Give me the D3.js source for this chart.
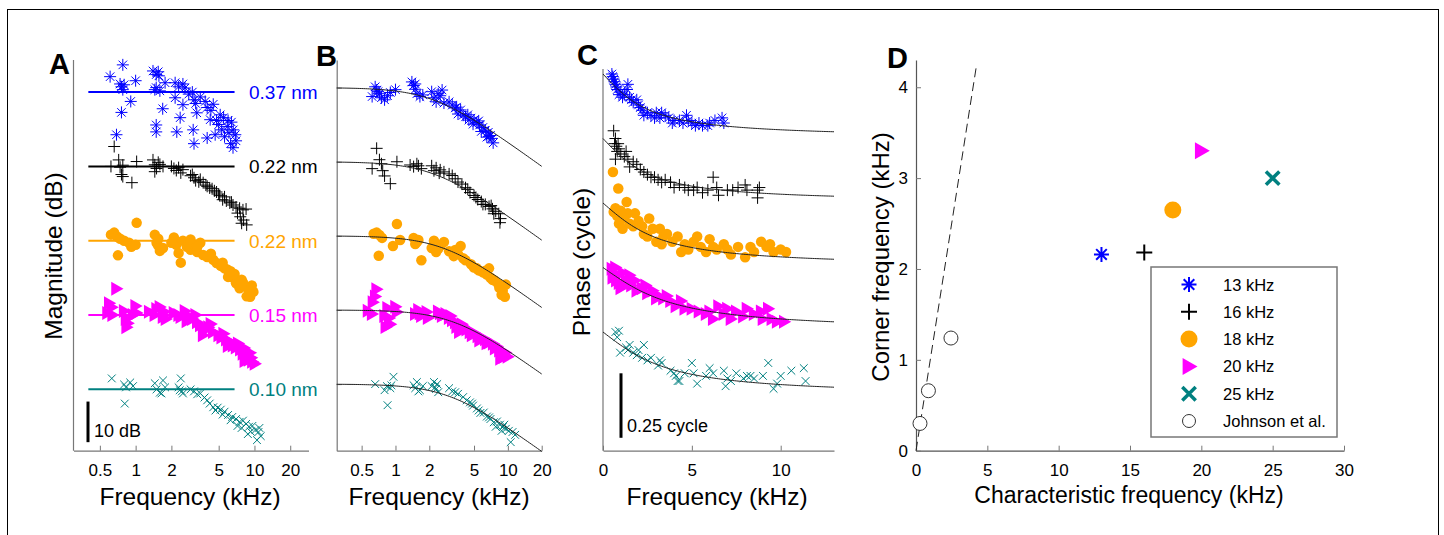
<!DOCTYPE html>
<html>
<head>
<meta charset="utf-8">
<script src="https://cdn.jsdelivr.net/npm/d3@7"></script>
<style>
body { margin: 0; background: #fff; }
svg { font-family: "Liberation Sans", Arial, sans-serif; }
</style>
</head>
<body>
<svg id="fig" width="1444" height="535"></svg>
<script>
// ---- data ----
// series order: 13, 16, 18, 20, 25 kHz
var seriesNames = ["13 kHz", "16 kHz", "18 kHz", "20 kHz", "25 kHz"];
var levelLabels = ["0.37 nm", "0.22 nm", "0.22 nm", "0.15 nm", "0.10 nm"];
var charFreq = [13, 16, 18, 20, 25];
var cornerFreq = [2.16, 2.18, 2.65, 3.3, 3.0];
var johnsonCF = [0.28, 0.87, 2.45];
var johnsonCorner = [0.3, 0.66, 1.24];

var logTicks = [0.5, 1, 2, 5, 10, 20];
var linTicksC = [0, 5, 10];
var xTicksD = [0, 5, 10, 15, 20, 25, 30];
var yTicksD = [0, 1, 2, 3, 4];

// panel A: [kHz, dB re. reference line]
var magA13 = [[0.61,3.8],[0.78,6.7],[0.74,2.0],[0.76,1.3],[0.78,0.6],[1.0,2.8],[0.91,-2.3],[0.76,-5.0],[0.69,-10.5],[1.4,5.2],[1.49,4.3],[1.57,4.0],[1.49,1.1],[1.45,0.6],[1.77,2.3],[1.69,-4.1],[1.49,-8.1],[1.49,-9.8],[2.15,2.3],[2.3,1.3],[2.5,2.0],[2.15,-1.4],[2.5,-3.1],[2.37,-6.3],[2.22,-9.8],[3.0,0],[3.1,-1.9],[3.2,-2.8],[3.27,-5.1],[3.05,-9.3],[3.1,-12.7],[3.85,-2.3],[4.0,-3.8],[4.5,-3.0],[4.24,-6.8],[4.0,-11.3],[4.67,-10.5],[5.15,-5.6],[5.5,-6.3],[6.0,-7.0],[6.4,-7.4],[6.63,-9.3],[5.3,-9.3],[5.6,-11.0],[6.3,-12.7],[6.6,-13.7],[5.9,-8.5],[4.8,-7.0],[2.8,-0.5],[1.6,0.3],[6.9,-10.5],[7.0,-12.0],[0.8,1.8],[1.55,5.0],[2.6,1.0],[3.5,-1.2],[4.3,-4.5],[5.0,-8.0],[6.1,-10.0]];
var magA16 = [[0.62,0],[0.66,4.9],[0.72,1.6],[0.74,-0.2],[0.76,-2],[0.78,-2.5],[0.93,-4],[0.78,0.3],[1.02,1.2],[1.4,1.6],[1.45,0.4],[1.5,-0.5],[1.45,-1.3],[1.6,0.5],[1.7,0],[2.0,0],[2.1,-0.5],[2.2,-1],[2.4,-1.6],[2.5,-0.8],[2.9,-2.3],[3.1,-2.8],[3.2,-3.5],[3.4,-3.8],[3.7,-4],[3.9,-4.6],[4.2,-5.3],[4.6,-6],[4.8,-6.3],[5.1,-7.2],[5.4,-8.2],[5.8,-8.5],[6.2,-9],[6.6,-9.5],[7.0,-10],[7.5,-10.3],[8.0,-10.7],[8.5,-10.5],[7.6,-12.4],[8.1,-13.2],[8.6,-14.4],[7.8,-14],[5.6,-7.5],[4.4,-5.5],[3.5,-3.2],[1.55,1.0],[2.3,-0.3],[3.0,-2.0],[4.0,-4.9],[5.0,-6.8],[6.4,-8.8],[7.2,-11.5]];
var magA18 = [[0.62,1.5],[0.66,2],[0.7,1],[0.74,0.5],[0.71,-3.6],[0.8,0],[0.88,-0.5],[0.92,-1.5],[1.02,4.4],[1.0,-1],[1.45,1.5],[1.5,-0.5],[1.55,-1.2],[1.6,-2.5],[1.7,-1.8],[2.1,0.8],[2.2,-1],[2.3,-3],[2.4,-5.4],[2.5,0],[2.7,-1.5],[2.9,-2.2],[3.1,-1],[3.3,-2.8],[3.5,-0.5],[3.7,-3.5],[4.0,-4],[4.5,-4.7],[4.8,-5.5],[5.2,-6.2],[5.6,-6.8],[5.9,-7.1],[6.0,-8.9],[6.5,-9],[7.0,-10.5],[7.5,-11.7],[8.2,-11.2],[8.6,-13.7],[9.2,-13.8],[9.8,-12.6],[9.5,-11],[6.8,-8.2],[7.8,-9.6],[1.55,0.5],[2.0,-0.5],[2.9,0.3],[3.3,-1.5],[4.3,-3.2],[5.4,-5.4],[6.3,-7.5],[8.0,-10.3],[9.0,-12.3]];
var magA20 = [[0.58,0.5],[0.6,2.9],[0.63,1.9],[0.64,0],[0.69,6.5],[0.8,1],[0.83,-1],[0.84,-3],[0.86,-2],[0.95,0],[1.0,2.2],[1.02,0.5],[1.45,0],[1.5,1.5],[1.6,2],[1.7,-0.5],[1.75,0.8],[1.8,-1],[2.3,0],[2.4,-0.5],[2.6,1],[2.7,-1.5],[2.9,-0.5],[3.0,-1],[3.3,-1.8],[3.5,-2.5],[3.8,-3.8],[4.1,-3],[4.5,-4.2],[3.7,-5],[5.0,-5],[5.3,-5.5],[5.8,-6],[6.2,-6.5],[6.6,-7.5],[7.0,-8],[7.6,-8.5],[8.0,-9.5],[8.6,-10],[9.0,-11],[9.6,-11.5],[10.1,-12],[9.4,-10.5],[8.3,-11.3],[1.3,0.8],[2.1,0.5],[3.2,0],[4.3,-2.2],[5.5,-4.6],[6.0,-7.6],[7.3,-7.0],[8.2,-8.1],[9.2,-9.3]];
var magA25 = [[0.63,2.7],[0.8,1.2],[0.83,0.5],[0.81,-3.5],[0.9,1.7],[0.95,0.8],[1.45,1.5],[1.5,0],[1.6,-0.8],[1.7,2.2],[1.77,0.5],[1.65,-1],[2.3,0.5],[2.4,2.7],[2.45,-0.5],[2.5,-1],[2.9,0],[3.1,-0.5],[3.3,-1.2],[3.5,-1],[3.8,-2],[4.0,-2.7],[4.2,-3.5],[4.5,-4.4],[4.9,-4.5],[5.2,-5],[5.6,-5.5],[6.0,-6.3],[6.5,-6.8],[7.0,-7.3],[7.5,-8],[8.0,-7.7],[8.5,-8.5],[9.0,-9.2],[9.6,-9],[10.2,-10],[10.8,-10.5],[11.3,-11.5],[10.5,-12.5],[7.2,-9],[8.8,-11],[2.35,-0.2],[4.7,-5.2],[5.4,-6.2],[6.3,-7.6],[7.8,-9.5],[9.3,-10.4],[11.0,-9.5]];

// panel B: [kHz, dB re. low-frequency level]
var magB13 = [[0.62,-2.2],[0.66,0.2],[0.68,-0.6],[0.72,-1.5],[0.75,-2.5],[0.8,-3],[0.85,-2],[0.9,-1.2],[1.0,-0.5],[1.4,1.4],[1.45,0.5],[1.5,-0.4],[1.55,-1.5],[1.65,-2.2],[1.75,-1.8],[2.1,-1],[2.2,-2.5],[2.3,-3.5],[2.5,-2],[2.6,-0.6],[2.7,-3.8],[3.2,-4.3],[3.4,-5],[3.6,-6.5],[3.8,-5.5],[4.0,-6.8],[4.2,-7.2],[4.4,-6.7],[4.7,-7.5],[5.0,-8],[5.3,-8.6],[5.6,-9.2],[6.0,-9.8],[6.3,-10.5],[6.7,-11],[7.0,-11.8],[7.2,-12.5],[7.4,-13.6],[6.5,-12.2],[5.8,-10.8],[4.9,-9],[0.7,-1.0],[1.5,0.9],[2.4,-1.5],[3.0,-3.5],[3.5,-4.8],[4.5,-8.0],[5.5,-8.2],[6.8,-12.0]];
var magB16 = [[0.62,-1.7],[0.68,3.3],[0.72,0.5],[0.75,-0.5],[0.77,-2.2],[0.8,-3.5],[0.9,-5.4],[1.03,0],[1.35,-0.8],[1.45,-1.2],[1.55,-0.5],[1.7,-1.7],[2.1,-1],[2.2,-2.2],[2.3,-1.5],[2.45,-2.8],[2.7,-2.5],[3.2,-3.4],[3.4,-4.2],[3.6,-5],[3.9,-5.5],[4.2,-6.4],[4.6,-7.6],[5.0,-8.3],[5.4,-9.3],[5.8,-9.8],[6.3,-10.5],[6.8,-11],[7.3,-11.6],[7.8,-12.2],[8.3,-12.8],[8.6,-14],[8.5,-15],[7.1,-10.8],[6.0,-10.5],[1.6,-1.0],[2.5,-2.0],[3.0,-3.0],[4.4,-6.8],[5.2,-8.8],[7.5,-12.8]];
var magB18 = [[0.64,0.5],[0.68,0.8],[0.72,0.2],[0.76,-0.5],[0.71,-4.9],[0.95,-2.5],[1.03,2.9],[1.1,-1],[1.45,-0.5],[1.5,-2],[1.6,-1],[1.7,-6],[2.1,-3],[2.2,-1.2],[2.3,-4],[2.5,-2.5],[2.7,-1.5],[3.0,-3.8],[3.3,-5],[3.6,-4.5],[3.8,-2.5],[4.2,-6],[4.7,-7],[5.0,-7.8],[5.5,-8.5],[6.0,-9],[6.5,-9.5],[7.0,-10.3],[6.8,-8],[7.6,-11],[8.2,-11.8],[8.6,-12.5],[9.0,-13.5],[9.4,-15],[8.8,-14.5],[9.6,-12],[1.55,-1.5],[2.4,-3.2],[3.4,-3.5],[4.0,-5.5],[5.3,-8.0],[6.3,-8.6],[7.3,-10.8],[8.4,-12.8]];
var magB20 = [[0.57,-0.2],[0.63,1.9],[0.66,3.3],[0.68,5.1],[0.62,-1],[0.8,-1.5],[0.85,0.5],[0.88,-2],[0.9,-3.5],[0.82,-4.2],[1.0,0.8],[1.03,-0.5],[1.5,-1],[1.6,0],[1.7,-1.5],[1.9,-0.5],[1.95,-2],[2.4,-0.4],[2.6,-1.5],[2.8,-1],[3.0,-2],[3.2,-2.5],[3.4,-3],[3.5,-4.2],[3.7,-5.4],[4.0,-4],[4.3,-4.8],[4.6,-5.5],[5.0,-5.6],[5.4,-6.5],[5.8,-6.8],[6.3,-7.2],[6.8,-8],[7.4,-8.3],[8.0,-9],[8.4,-10],[8.8,-11],[9.2,-11.6],[9.5,-10.5],[8.6,-12],[10.0,-11.5],[1.65,-0.8],[2.5,-0.8],[3.1,-1.5],[3.9,-3.5],[4.8,-6.2],[5.6,-7.5],[6.5,-8.2],[7.7,-9.5],[9.0,-10.2]];
var magB25 = [[0.66,0],[0.8,-1.5],[0.84,-0.5],[0.85,-5.2],[0.9,-1],[0.96,1.8],[0.92,-0.3],[1.45,-0.3],[1.55,0.5],[1.65,-1.5],[1.75,-0.5],[1.6,-1.8],[2.1,-0.5],[2.2,0.5],[2.3,-1.2],[2.4,-2],[2.35,0],[3.0,-1],[3.2,-1.8],[3.6,-2.4],[4.0,-3.2],[4.3,-4],[4.6,-4.5],[4.9,-5.3],[5.3,-6],[5.7,-7.1],[6.1,-7],[6.5,-8],[7.0,-8.6],[7.5,-9.4],[8.0,-9.2],[8.5,-10],[9.0,-10.6],[9.6,-11],[10.2,-11.5],[11.0,-11.8],[11.6,-12.5],[10.6,-14.3],[8.8,-11.5],[7.8,-10.5],[1.5,-1.0],[2.25,-0.8],[3.4,-2.0],[4.8,-4.8],[5.5,-6.5],[6.8,-8.2],[9.3,-10.0]];

// panel C: [kHz, cycle re. fit start]
var phC13 = [[0.5,0.0],[0.6,-0.02],[0.7,-0.04],[0.8,-0.06],[0.9,-0.08],[1.0,-0.07],[1.1,-0.09],[1.4,-0.04],[1.5,-0.09],[1.6,-0.1],[1.7,-0.11],[1.9,-0.1],[2.1,-0.13],[2.3,-0.16],[2.5,-0.15],[2.7,-0.16],[3.0,-0.15],[3.2,-0.17],[3.5,-0.16],[3.7,-0.17],[3.9,-0.19],[4.3,-0.18],[4.5,-0.19],[4.7,-0.16],[4.8,-0.18],[5.2,-0.2],[5.4,-0.19],[5.6,-0.2],[6.0,-0.19],[6.3,-0.18],[6.7,-0.17],[6.8,-0.19],[0.55,-0.01],[0.65,-0.03],[0.75,-0.05],[1.2,-0.08],[1.35,-0.06],[2.0,-0.12],[2.2,-0.14],[2.9,-0.17],[3.3,-0.15],[4.0,-0.18],[5.0,-0.19],[5.9,-0.2]];
var phC16 = [[0.6,0.03],[0.7,0.0],[0.75,-0.03],[0.8,-0.05],[0.7,-0.08],[0.9,-0.04],[1.0,-0.06],[1.3,-0.05],[1.4,-0.08],[1.5,-0.11],[1.7,-0.09],[2.1,-0.12],[2.3,-0.13],[2.5,-0.14],[2.9,-0.15],[3.1,-0.16],[3.3,-0.17],[3.8,-0.17],[4.0,-0.19],[4.6,-0.19],[4.8,-0.2],[5.3,-0.19],[5.6,-0.21],[6.2,-0.15],[6.4,-0.19],[6.5,-0.22],[7.0,-0.2],[7.3,-0.2],[8.0,-0.18],[8.1,-0.2],[8.7,-0.2],[8.8,-0.19],[8.7,-0.23],[0.65,-0.02],[0.85,-0.02],[1.2,-0.07],[1.9,-0.1],[2.7,-0.15],[3.5,-0.16],[4.3,-0.18],[5.1,-0.2],[5.9,-0.2],[7.6,-0.19]];
var phC18 = [[0.56,0.12],[0.86,0.056],[1.33,0.004],[0.6,-0.035],[0.8,-0.05],[0.9,-0.08],[1.1,-0.1],[1.4,-0.04],[1.5,-0.08],[1.8,-0.04],[2.0,-0.07],[2.3,-0.12],[2.6,-0.06],[2.8,-0.1],[3.2,-0.1],[3.4,-0.13],[3.6,-0.12],[3.9,-0.15],[4.2,-0.13],[4.6,-0.16],[5.1,-0.15],[5.5,-0.17],[5.8,-0.19],[6.0,-0.14],[6.4,-0.18],[6.8,-0.16],[7.2,-0.2],[7.6,-0.17],[8.0,-0.21],[8.5,-0.19],[8.9,-0.15],[9.2,-0.17],[9.6,-0.19],[10.0,-0.18],[10.3,-0.19],[4.4,-0.19],[3.0,-0.15],[1.2,-0.06],[0.7,-0.02],[1.0,-0.03],[1.7,-0.09],[2.2,-0.09],[2.5,-0.13],[3.3,-0.16],[4.8,-0.18],[5.3,-0.13],[6.2,-0.17],[7.0,-0.18],[8.3,-0.17],[9.4,-0.16]];
var phC20 = [[0.5,-0.005],[0.6,-0.02],[0.7,0.0],[0.8,-0.03],[0.9,-0.06],[1.0,-0.08],[1.1,-0.02],[1.3,-0.05],[1.5,-0.03],[1.6,-0.07],[1.8,-0.05],[2.2,-0.08],[2.5,-0.1],[2.8,-0.09],[3.1,-0.11],[3.4,-0.12],[3.8,-0.13],[4.1,-0.15],[4.4,-0.13],[5.0,-0.16],[5.4,-0.17],[5.8,-0.18],[6.2,-0.2],[6.5,-0.15],[6.8,-0.18],[7.2,-0.2],[7.5,-0.17],[8.1,-0.16],[8.5,-0.18],[8.9,-0.17],[9.3,-0.16],[9.5,-0.2],[9.8,-0.21],[10.2,-0.21],[0.55,-0.04],[0.75,-0.05],[1.2,-0.07],[1.9,-0.09],[2.4,-0.07],[3.0,-0.12],[3.6,-0.11],[4.6,-0.16],[6.0,-0.17],[7.0,-0.16],[7.9,-0.19],[9.0,-0.2]];
var phC25 = [[0.7,0.0],[0.8,-0.02],[0.9,0.005],[0.96,-0.08],[1.3,-0.06],[1.5,-0.05],[1.7,-0.08],[2.0,-0.07],[2.3,-0.05],[2.5,-0.11],[2.7,-0.1],[3.1,-0.13],[3.3,-0.12],[3.8,-0.15],[4.0,-0.16],[4.2,-0.19],[4.3,-0.19],[5.0,-0.12],[5.1,-0.16],[5.3,-0.2],[6.0,-0.14],[6.2,-0.16],[6.8,-0.15],[7.0,-0.18],[6.9,-0.21],[7.5,-0.16],[7.9,-0.18],[8.3,-0.17],[8.5,-0.18],[9.0,-0.17],[9.3,-0.12],[9.8,-0.2],[10.0,-0.17],[10.6,-0.15],[11.3,-0.14],[11.4,-0.19],[1.4,-0.07],[1.9,-0.09],[2.2,-0.1],[3.2,-0.11],[4.1,-0.17],[4.6,-0.16],[5.8,-0.17],[7.2,-0.19],[8.1,-0.17],[9.6,-0.22]];

var magA = [magA13, magA16, magA18, magA20, magA25];
var magB = [magB13, magB16, magB18, magB20, magB25];
var phC = [phC13, phC16, phC18, phC20, phC25];

// ---- style ----
var colors = ["#0000ff", "#000000", "#ffa500", "#ff00ff", "#008080"];
var kinds = ["star", "plus", "dot", "tri", "cross"];
var axisColor = "#777";

var svg = d3.select("svg#fig");

// outer frame
svg.append("rect")
  .attr("x", 7.5).attr("y", 9.5)
  .attr("width", 1431).attr("height", 600)
  .attr("fill", "none").attr("stroke", "#000").attr("stroke-width", 1);

function symPath(kind, s) {
  var h = s / 2, d = h * 0.7071;
  if (kind == "star") return "M" + (-h) + ",0L" + h + ",0M0," + (-h) + "L0," + h +
    "M" + (-d) + "," + (-d) + "L" + d + "," + d + "M" + (-d) + "," + d + "L" + d + "," + (-d);
  if (kind == "plus") return "M" + (-h) + ",0L" + h + ",0M0," + (-h) + "L0," + h;
  if (kind == "cross") return "M" + (-d) + "," + (-d) + "L" + d + "," + d + "M" + (-d) + "," + d + "L" + d + "," + (-d);
  if (kind == "tri") return "M" + (-h * 0.75) + "," + (-h) + "L" + h + ",0L" + (-h * 0.75) + "," + h + "Z";
  return d3.symbol(d3.symbolCircle, Math.PI * h * h)();
}

function styleMarks(sel, kind, color, sw) {
  if (kind == "dot" || kind == "tri") {
    sel.attr("fill", color).attr("stroke", "none");
  } else {
    sel.attr("fill", "none").attr("stroke", color).attr("stroke-width", sw);
  }
}

var sizes = { star: 12, plus: 12, dot: 10.5, tri: 14, cross: 11 };

function drawScatter(g, data, x, y, offset, i) {
  var k = kinds[i];
  var m = g.append("g").selectAll("path")
    .data(data)
    .enter().append("path")
    .attr("d", symPath(k, sizes[k]))
    .attr("transform", d => "translate(" + x(d[0]) + "," + y(d[1] + offset) + ")");
  styleMarks(m, k, colors[i], 1);
}

function styleAxis(g) {
  g.select(".domain").attr("stroke", axisColor).attr("stroke-width", 1.2);
  g.selectAll(".tick line").attr("stroke", axisColor);
  g.selectAll(".tick text").attr("fill", "#000").attr("font-size", 17)
    .attr("font-family", "Liberation Sans, Arial, sans-serif");
}

function axisTitle(x, y, text, rot, size) {
  svg.append("text")
    .attr("transform", "translate(" + x + "," + y + ")" + (rot ? " rotate(-90)" : ""))
    .attr("text-anchor", "middle")
    .attr("font-size", size || 24)
    .text(text);
}

function panelLetter(x, y, t) {
  svg.append("text").attr("x", x).attr("y", y)
    .attr("font-size", 29).attr("font-weight", "bold").text(t);
}

var bottom = 450.7;

// ================= Panel A =================
var xA = d3.scaleLog().domain([0.3, 28.5]).range([73.5, 308.5]);
var yA = d3.scaleLinear().domain([-88.3, 7.9]).range([bottom, 60]);
var stepA = 18.3;
var gA = svg.append("g");

gA.append("line").attr("x1", xA.range()[0]).attr("x2", xA.range()[0])
  .attr("y1", yA.range()[0]).attr("y2", yA.range()[1])
  .attr("stroke", axisColor).attr("stroke-width", 1.2);
var axA = gA.append("g").attr("transform", "translate(0," + bottom + ")")
  .call(d3.axisBottom(xA).tickValues(logTicks).tickFormat(d3.format("")).tickSizeInner(-5).tickSizeOuter(0).tickPadding(13));
styleAxis(axA);

magA.forEach(function(ser, i) {
  var off = -i * stepA;
  gA.append("line")
    .attr("x1", xA(0.4)).attr("x2", xA(6.8))
    .attr("y1", yA(off)).attr("y2", yA(off))
    .attr("stroke", colors[i]).attr("stroke-width", 2);
  drawScatter(gA, ser, xA, yA, off, i);
  gA.append("text")
    .attr("x", 249).attr("y", yA(off) + 7)
    .attr("font-size", 19).attr("fill", colors[i])
    .text(levelLabels[i]);
});

// 10 dB scale bar
gA.append("line").attr("x1", 88).attr("x2", 88)
  .attr("y1", yA(-86.2)).attr("y2", yA(-76.2))
  .attr("stroke", "#000").attr("stroke-width", 3);
gA.append("text").attr("x", 94).attr("y", 437).attr("font-size", 18).text("10 dB");

axisTitle(190, 505, "Frequency (kHz)", false, 24.5);
axisTitle(62, 256, "Magnitude (dB)", true, 24.5);
panelLetter(49, 74, "A");

// ================= Panel B =================
var xB = d3.scaleLog().domain([0.3, 20]).range([336.7, 541.7]);
var yB = d3.scaleLinear().domain([-89.4, 6.8]).range([bottom, 60]);
var stepB = 18.25;
var gB = svg.append("g");

var levelsB = cornerFreq.map((fc, i) => -i * stepB);
var axBy = gB.append("g").attr("transform", "translate(" + xB.range()[0] + ",0)")
  .call(d3.axisLeft(yB).tickValues(levelsB).tickFormat("").tickSizeInner(-5).tickSizeOuter(0));
styleAxis(axBy);
var axB = gB.append("g").attr("transform", "translate(0," + bottom + ")")
  .call(d3.axisBottom(xB).tickValues(logTicks).tickFormat(d3.format("")).tickSizeInner(-5).tickSizeOuter(0).tickPadding(13));
styleAxis(axB);

var fitFreqB = d3.range(0, 101).map(k => 0.3 * Math.pow(20 / 0.3, k / 100));
var lineB = d3.line().x(d => xB(d[0])).y(d => yB(d[1]));
magB.forEach(function(ser, i) {
  var off = -i * stepB;
  var fit = fitFreqB.map(f => [f, off - 10 * Math.log10(1 + (f / cornerFreq[i]) * (f / cornerFreq[i]))]);
  drawScatter(gB, ser, xB, yB, off, i);
  gB.append("path").attr("d", lineB(fit))
    .attr("fill", "none").attr("stroke", "#222").attr("stroke-width", 1);
});

axisTitle(439, 505, "Frequency (kHz)", false, 24.5);
panelLetter(316, 66, "B");

// ================= Panel C =================
var xC = d3.scaleLinear().domain([0, 13]).range([603, 834]);
var yC = d3.scaleLinear().domain([-1.46, 0.02]).range([bottom, bottom - 1.48 * 258]);
var stepC = 0.25;
var gC = svg.append("g");

gC.append("line").attr("x1", xC(0)).attr("x2", xC(0))
  .attr("y1", bottom).attr("y2", 69)
  .attr("stroke", axisColor).attr("stroke-width", 1.2);
var axC = gC.append("g").attr("transform", "translate(0," + bottom + ")")
  .call(d3.axisBottom(xC).tickValues(linTicksC).tickSizeInner(-5).tickSizeOuter(0).tickPadding(13));
styleAxis(axC);

var fitFreqC = d3.range(0, 131).map(k => k / 10);
var lineC = d3.line().x(d => xC(d[0])).y(d => yC(d[1]));
phC.forEach(function(ser, i) {
  var off = -i * stepC;
  var fit = fitFreqC.map(f => [f, off - Math.atan(f / cornerFreq[i]) / (2 * Math.PI)]);
  drawScatter(gC, ser, xC, yC, off, i);
  gC.append("path").attr("d", lineC(fit))
    .attr("fill", "none").attr("stroke", "#222").attr("stroke-width", 1);
});

// 0.25 cycle scale bar
gC.append("line").attr("x1", 621).attr("x2", 621)
  .attr("y1", yC(-1.41)).attr("y2", yC(-1.16))
  .attr("stroke", "#000").attr("stroke-width", 3);
gC.append("text").attr("x", 627).attr("y", 432).attr("font-size", 18).text("0.25 cycle");

axisTitle(717, 505, "Frequency (kHz)", false, 24.5);
axisTitle(590, 262, "Phase (cycle)", true, 24.5);
panelLetter(577, 65, "C");

// ================= Panel D =================
var xD = d3.scaleLinear().domain([0, 30]).range([916, 1344]);
var yD = d3.scaleLinear().domain([0, 4.3]).range([bottom, 60]);
var gD = svg.append("g");

var axDx = gD.append("g").attr("transform", "translate(0," + bottom + ")")
  .call(d3.axisBottom(xD).tickValues(xTicksD).tickSizeInner(-5).tickSizeOuter(0).tickPadding(13));
styleAxis(axDx);
var axDy = gD.append("g").attr("transform", "translate(" + xD(0) + ",0)")
  .call(d3.axisLeft(yD).tickValues(yTicksD).tickFormat(d3.format("d")).tickSizeInner(-5).tickSizeOuter(0).tickPadding(8));
styleAxis(axDy);
axDx.select(".domain").attr("stroke", "#555");
axDy.select(".domain").attr("stroke", "#555");

// identity line
gD.append("line")
  .attr("x1", xD(0)).attr("y1", yD(0))
  .attr("x2", xD(4.22)).attr("y2", yD(4.22))
  .attr("stroke", "#222").attr("stroke-width", 1)
  .attr("stroke-dasharray", "9,5");

// Johnson et al.
gD.selectAll("circle.johnson")
  .data(johnsonCF.map((c, i) => [c, johnsonCorner[i]]))
  .enter().append("circle")
  .attr("class", "johnson")
  .attr("cx", d => xD(d[0])).attr("cy", d => yD(d[1]))
  .attr("r", 7).attr("fill", "#fff").attr("stroke", "#333").attr("stroke-width", 1);

var sizesD = { star: 15, plus: 16, dot: 17, tri: 17, cross: 19 };
charFreq.forEach(function(cf, i) {
  var k = kinds[i];
  var p = gD.append("path")
    .attr("d", symPath(k, sizesD[k]))
    .attr("transform", "translate(" + xD(cf) + "," + yD(cornerFreq[i]) + ")");
  styleMarks(p, k, colors[i], k == "cross" ? 3.5 : 2);
});

// legend
var lg = gD.append("g").attr("transform", "translate(1151,267)");
lg.append("rect").attr("width", 186).attr("height", 170)
  .attr("fill", "#fff").attr("stroke", "#777").attr("stroke-width", 1.5);
var legendNames = seriesNames.concat(["Johnson et al."]);
legendNames.forEach(function(name, i) {
  var yy = 17.5 + i * 27.3;
  if (i < 5) {
    var k = kinds[i];
    var p = lg.append("path")
      .attr("d", symPath(k, sizesD[k]))
      .attr("transform", "translate(38," + yy + ")");
    styleMarks(p, k, colors[i], k == "cross" ? 3.5 : 2);
  } else {
    lg.append("circle").attr("cx", 38).attr("cy", yy).attr("r", 6.5)
      .attr("fill", "#fff").attr("stroke", "#333").attr("stroke-width", 1);
  }
  lg.append("text").attr("x", 72).attr("y", yy + 6)
    .attr("font-size", 16.5).text(name);
});

axisTitle(1129, 503, "Characteristic frequency (kHz)", false, 23);
axisTitle(889, 257, "Corner frequency (kHz)", true, 24);
panelLetter(887, 68, "D");
</script>
</body>
</html>
